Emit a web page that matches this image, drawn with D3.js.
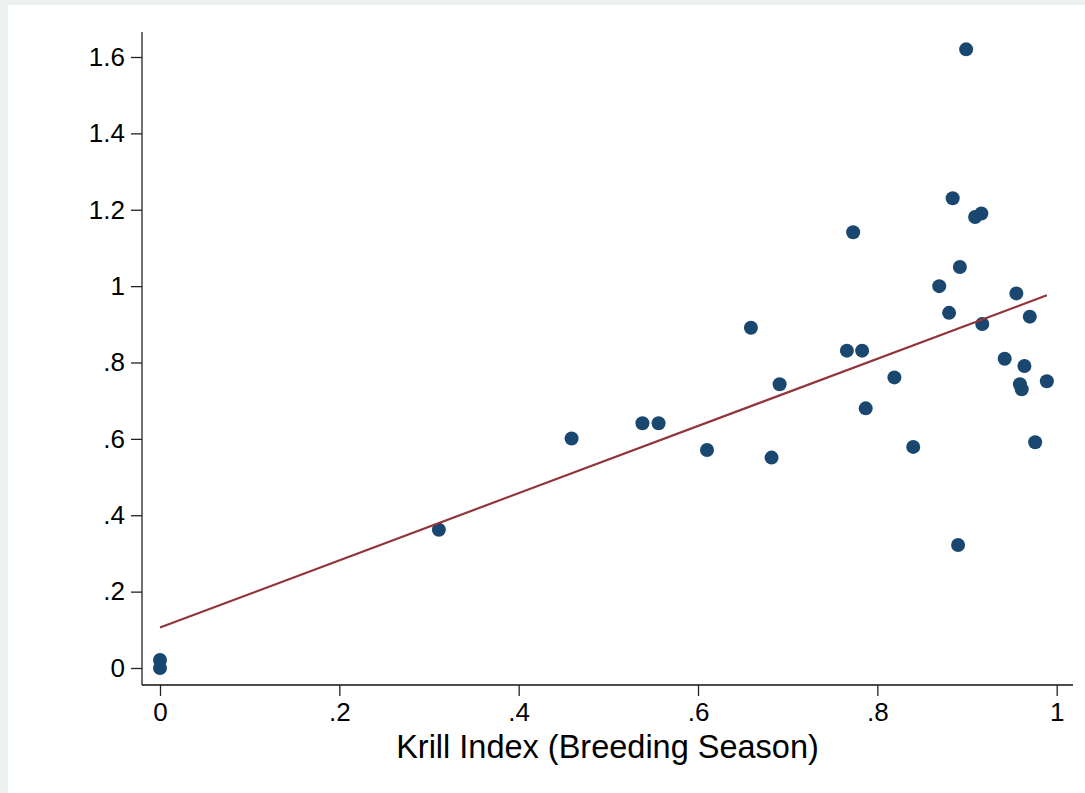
<!DOCTYPE html>
<html>
<head>
<meta charset="utf-8">
<script src="https://cdn.jsdelivr.net/npm/d3@7"></script>
<style>
  body { margin: 0; background: #edf1f2; }
  text { font-family: "Liberation Sans", Arial, sans-serif; fill: #000; }
</style>
</head>
<body>
<div id="chart"></div>
<script>
// Chart data
var krillIndex = [0, 0, 0.311, 0.459, 0.538, 0.556, 0.610, 0.659, 0.682, 0.691,
  0.766, 0.773, 0.783, 0.787, 0.819, 0.840, 0.869, 0.880, 0.884, 0.890,
  0.892, 0.899, 0.909, 0.916, 0.917, 0.942, 0.955, 0.959, 0.961, 0.964,
  0.970, 0.976, 0.989];
var response = [0, 0.021, 0.362, 0.601, 0.641, 0.641, 0.571, 0.891, 0.551, 0.743,
  0.831, 1.141, 0.831, 0.680, 0.761, 0.579, 1.000, 0.930, 1.230, 0.322,
  1.050, 1.620, 1.181, 1.190, 0.901, 0.810, 0.981, 0.743, 0.730, 0.791,
  0.920, 0.591, 0.751];

// Fitted line end points
var fitX = [0, 0.989];
var fitY = [0.106, 0.976];

// Ticks and their labels
var xTicks = [0, 0.2, 0.4, 0.6, 0.8, 1];
var xTickLabels = ["0", ".2", ".4", ".6", ".8", "1"];
var yTicks = [0, 0.2, 0.4, 0.6, 0.8, 1, 1.2, 1.4, 1.6];
var yTickLabels = ["0", ".2", ".4", ".6", ".8", "1", "1.2", "1.4", "1.6"];
var xTitle = "Krill Index (Breeding Season)";

// Page size
var width = 1085;
var height = 793;

// Plot frame (axis lines)
var plotLeft = 142, plotRight = 1073, plotTop = 32, plotBottom = 685;

var svg = d3.select("#chart")
  .append("svg")
  .attr("width", width)
  .attr("height", height);

// grey graph region, white inner area
svg.append("rect").attr("width", width).attr("height", height).attr("fill", "#edf1f2");
svg.append("rect").attr("x", 8).attr("y", 5).attr("width", width - 8).attr("height", height - 5).attr("fill", "#ffffff");

var x = d3.scaleLinear().domain([0, 1]).range([160, 1056.7]);
var y = d3.scaleLinear().domain([0, 1.6]).range([668, 57]);

// Axis lines
svg.append("line")
  .attr("x1", plotLeft).attr("x2", plotLeft)
  .attr("y1", plotTop).attr("y2", plotBottom)
  .attr("stroke", "#333").attr("stroke-width", 1.4);
svg.append("line")
  .attr("x1", plotLeft).attr("x2", plotRight)
  .attr("y1", plotBottom).attr("y2", plotBottom)
  .attr("stroke", "#111").attr("stroke-width", 1.4);

// Y axis ticks
var yAxis = d3.axisLeft(y)
  .tickValues(yTicks)
  .tickFormat(function(d, i) { return yTickLabels[i]; })
  .tickSize(11)
  .tickPadding(6);
var yG = svg.append("g")
  .attr("transform", "translate(" + plotLeft + ",0)")
  .call(yAxis);
yG.select(".domain").remove();
yG.selectAll(".tick line").attr("stroke", "#222").attr("stroke-width", 1.3);
yG.selectAll(".tick text").attr("font-size", 26).style("font-family", "Liberation Sans, Arial, sans-serif");

// X axis ticks
var xAxis = d3.axisBottom(x)
  .tickValues(xTicks)
  .tickFormat(function(d, i) { return xTickLabels[i]; })
  .tickSize(11)
  .tickPadding(7);
var xG = svg.append("g")
  .attr("transform", "translate(0," + plotBottom + ")")
  .call(xAxis);
xG.select(".domain").remove();
xG.selectAll(".tick line").attr("stroke", "#222").attr("stroke-width", 1.3);
xG.selectAll(".tick text").attr("font-size", 26).style("font-family", "Liberation Sans, Arial, sans-serif");

// X axis title
svg.append("text")
  .attr("x", (plotLeft + plotRight) / 2)
  .attr("y", 758)
  .attr("text-anchor", "middle")
  .attr("font-size", 32.5)
  .text(xTitle);

// Scatter points
var points = krillIndex.map(function(d, i) { return { k: d, v: response[i] }; });
svg.append("g")
  .selectAll("circle")
  .data(points)
  .enter()
  .append("circle")
  .attr("cx", function(d) { return x(d.k); })
  .attr("cy", function(d) { return y(d.v); })
  .attr("r", 7)
  .attr("fill", "#1a476f");

// Fitted line
var fitLine = d3.line()
  .x(function(d) { return x(d[0]); })
  .y(function(d) { return y(d[1]); });
svg.append("path")
  .datum(fitX.map(function(d, i) { return [d, fitY[i]]; }))
  .attr("d", fitLine)
  .attr("fill", "none")
  .attr("stroke", "#90353b")
  .attr("stroke-width", 2.2);
</script>
</body>
</html>
